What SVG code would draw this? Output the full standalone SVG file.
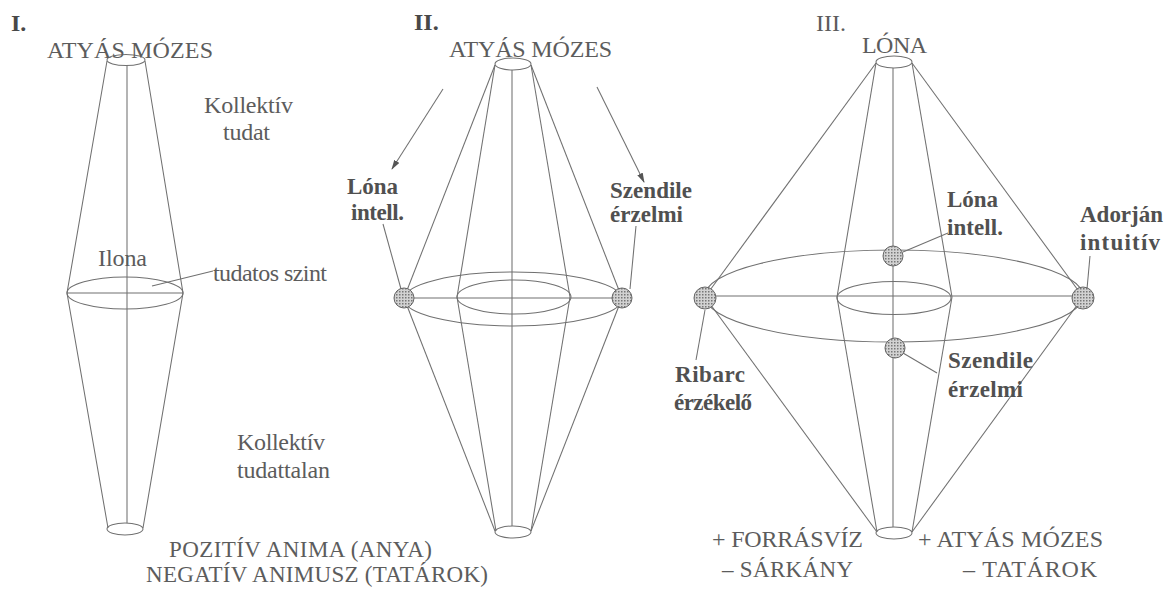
<svg xmlns="http://www.w3.org/2000/svg" width="1166" height="589" viewBox="0 0 1166 589">
<defs>
<style>
.ln{fill:none;stroke:#707070;stroke-width:1.05}
.t{font-family:"Liberation Serif","Times New Roman",serif;font-size:24px;fill:#5c5c5c}
.s{font-size:23px}
.b{font-family:"Liberation Serif","Times New Roman",serif;font-size:23px;font-weight:bold;fill:#505050}
.h{font-family:"Liberation Serif","Times New Roman",serif;font-size:24px;font-weight:bold;fill:#484848}
.n{fill:url(#dotfill);stroke:#666;stroke-width:1}
</style>
<pattern id="dotfill" width="3" height="3" patternUnits="userSpaceOnUse">
<rect width="3" height="3" fill="#d2d2d2"/>
<rect width="1.5" height="1.5" fill="#777"/>
</pattern>
<marker id="arr" viewBox="0 0 10 6" refX="9" refY="3" markerWidth="10" markerHeight="6" markerUnits="userSpaceOnUse" orient="auto">
<path d="M0,0 L10,3 L0,6 Z" fill="#555"/>
</marker>
</defs>
<rect width="1166" height="589" fill="#fff"/>

<g id="diagram-I">
<ellipse class="ln" cx="126" cy="60" rx="19" ry="5.5"/>
<polyline class="ln" points="107,61 67,293 108,528"/>
<polyline class="ln" points="145,61 183,293 143,528"/>
<line class="ln" x1="127" y1="65" x2="127" y2="523"/>
<ellipse class="ln" cx="125" cy="293" rx="58" ry="16"/>
<line class="ln" x1="67" y1="293" x2="183" y2="293"/>
<ellipse class="ln" cx="125" cy="529" rx="18" ry="6"/>
<text class="h" x="11" y="31">I.</text>
<text class="t" x="47" y="58" textLength="166" lengthAdjust="spacing">ATYÁS MÓZES</text>
<text class="t" x="204" y="113" textLength="89" lengthAdjust="spacing">Kollektív</text>
<text class="t" x="223" y="140" textLength="47" lengthAdjust="spacing">tudat</text>
<text class="t" x="98" y="266" textLength="49" lengthAdjust="spacing">Ilona</text>
<text class="t" x="213" y="281" textLength="114" lengthAdjust="spacing">tudatos szint</text>
<text class="t" x="237" y="450" textLength="88" lengthAdjust="spacing">Kollektív</text>
<text class="t" x="237" y="478" textLength="93" lengthAdjust="spacing">tudattalan</text>
<text class="t s" x="169" y="557" textLength="263" lengthAdjust="spacing">POZITÍV ANIMA (ANYA)</text>
<text class="t s" x="146" y="582" textLength="342" lengthAdjust="spacing">NEGATÍV ANIMUSZ (TATÁROK)</text>
</g>

<g id="diagram-II">
<ellipse class="ln" cx="513" cy="64" rx="18" ry="6"/>
<line class="ln" x1="495" y1="65" x2="404" y2="298"/>
<line class="ln" x1="495" y1="65" x2="457" y2="297"/>
<line class="ln" x1="531" y1="65" x2="570" y2="297"/>
<line class="ln" x1="531" y1="65" x2="622" y2="298"/>
<line class="ln" x1="404" y1="298" x2="495" y2="531"/>
<line class="ln" x1="457" y1="297" x2="496" y2="531"/>
<line class="ln" x1="570" y1="297" x2="531" y2="531"/>
<line class="ln" x1="622" y1="298" x2="531" y2="531"/>
<line class="ln" x1="512" y1="70" x2="512" y2="526"/>
<ellipse class="ln" cx="513" cy="299" rx="109" ry="27"/>
<ellipse class="ln" cx="514" cy="297" rx="57" ry="17"/>
<line class="ln" x1="404" y1="298" x2="622" y2="298"/>
<ellipse class="ln" cx="513" cy="532" rx="18" ry="6"/>
<text class="h" x="414" y="30">II.</text>
<text class="t" x="449" y="57" textLength="163" lengthAdjust="spacing">ATYÁS MÓZES</text>
<text class="b" x="347" y="194" textLength="51" lengthAdjust="spacing">Lóna</text>
<text class="b" x="351" y="220" textLength="53" lengthAdjust="spacing">intell.</text>
<text class="b" x="610" y="198" textLength="82" lengthAdjust="spacing">Szendile</text>
<text class="b" x="610" y="222" textLength="73" lengthAdjust="spacing">érzelmi</text>
</g>

<g id="diagram-III">
<ellipse class="ln" cx="894" cy="62" rx="18" ry="6"/>
<line class="ln" x1="876" y1="63" x2="705" y2="297"/>
<line class="ln" x1="876" y1="63" x2="837" y2="297"/>
<line class="ln" x1="912" y1="63" x2="952" y2="297"/>
<line class="ln" x1="912" y1="63" x2="1083" y2="297"/>
<line class="ln" x1="705" y1="297" x2="877" y2="532"/>
<line class="ln" x1="837" y1="297" x2="877" y2="532"/>
<line class="ln" x1="952" y1="297" x2="912" y2="532"/>
<line class="ln" x1="1083" y1="297" x2="912" y2="532"/>
<line class="ln" x1="893" y1="68" x2="893" y2="527"/>
<ellipse class="ln" cx="894" cy="296" rx="189" ry="46"/>
<ellipse class="ln" cx="894" cy="298" rx="57" ry="16.5"/>
<line class="ln" x1="705" y1="296" x2="1083" y2="296"/>
<ellipse class="ln" cx="894" cy="533" rx="18" ry="6"/>
<text class="t" x="816" y="31">III.</text>
<text class="t" x="862" y="53" textLength="65" lengthAdjust="spacing">LÓNA</text>
<text class="b" x="947" y="207" textLength="51" lengthAdjust="spacing">Lóna</text>
<text class="b" x="947" y="235" textLength="56" lengthAdjust="spacing">intell.</text>
<text class="b" x="1080" y="222" textLength="83" lengthAdjust="spacing">Adorján</text>
<text class="b" x="1080" y="250" textLength="80" lengthAdjust="spacing">intuitív</text>
<text class="b" x="675" y="382" textLength="70" lengthAdjust="spacing">Ribarc</text>
<text class="b" x="674" y="410" textLength="78" lengthAdjust="spacing">érzékelő</text>
<text class="b" x="948" y="368" textLength="85" lengthAdjust="spacing">Szendile</text>
<text class="b" x="948" y="397" textLength="75" lengthAdjust="spacing">érzelmi</text>
<text class="t" x="712" y="547" textLength="151" lengthAdjust="spacing">+ FORRÁSVÍZ</text>
<text class="t s" x="722" y="577" textLength="131" lengthAdjust="spacing">– SÁRKÁNY</text>
<text class="t" x="918" y="547" textLength="185" lengthAdjust="spacing">+ ATYÁS MÓZES</text>
<text class="t" x="963" y="577" textLength="134" lengthAdjust="spacing">– TATÁROK</text>
</g>

<g id="connectors">
<line class="ln" x1="213" y1="271" x2="152" y2="286"/>
<line class="ln" x1="443" y1="89" x2="392" y2="169" marker-end="url(#arr)"/>
<line class="ln" x1="597" y1="87" x2="644" y2="182" marker-end="url(#arr)"/>
<line class="ln" x1="383" y1="224" x2="401" y2="289"/>
<line class="ln" x1="636" y1="226" x2="630" y2="289"/>
<line class="ln" x1="903" y1="252" x2="948" y2="233"/>
<line class="ln" x1="1090" y1="256" x2="1087" y2="289"/>
<line class="ln" x1="705" y1="310" x2="696" y2="360"/>
<line class="ln" x1="903" y1="353" x2="937" y2="373"/>
</g>

<g id="node-II-left"><circle class="n" cx="404" cy="298" r="10"/></g>
<g id="node-II-right"><circle class="n" cx="622" cy="298" r="10"/></g>
<g id="node-III-left"><circle class="n" cx="705" cy="298" r="11"/></g>
<g id="node-III-right"><circle class="n" cx="1083" cy="298" r="11"/></g>
<g id="node-III-top"><circle class="n" cx="893" cy="256" r="10"/></g>
<g id="node-III-bottom"><circle class="n" cx="895" cy="348" r="10"/></g>
</svg>
